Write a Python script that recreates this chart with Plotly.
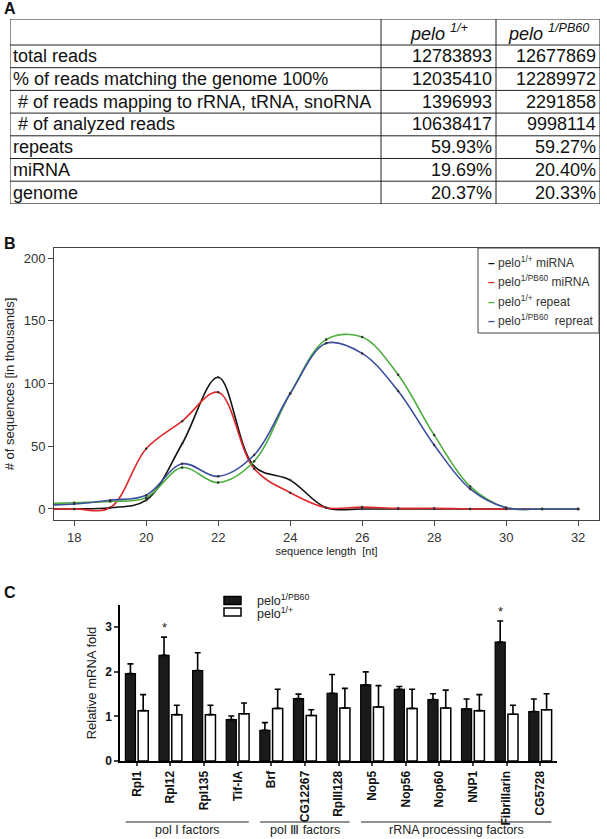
import plotly.graph_objects as go

W, H = 607, 839


def px(x):
    return x / W


def py(y):
    return 1 - y / H


FONT = "Liberation Sans, Arial, sans-serif"

# ---------------- Panel A: table ----------------
table_headers = ["", "<i>pelo <sup>1/+</sup></i>", "<i>pelo <sup>1/PB60</sup></i>"]
row_labels = [
    "total reads",
    "% of reads matching the genome 100%",
    " # of reads mapping to rRNA, tRNA, snoRNA",
    " # of analyzed reads",
    "repeats",
    "miRNA",
    "genome",
]
col_wt = ["12783893", "12035410", "1396993", "10638417", "59.93%", "19.69%", "20.37%"]
col_mut = ["12677869", "12289972", "2291858", "9998114", "59.27%", "20.40%", "20.33%"]

# ---------------- Panel B: length distribution ----------------
lengths = list(range(17, 33))
wt_mirna = [0, 0, 1, 7, 52, 105, 34, 23, 1, 0, 0, 0, 0, 0, 0, 0]
mut_mirna = [0, 0, 1, 48, 70, 93, 32, 13, 1, 1.5, 0.5, 0.5, 0, 0, 0, 0]
wt_repeat = [4, 5, 6, 9, 33, 21, 38, 92, 135, 137, 107, 59, 18, 1, 0, 0]
mut_repeat = [3, 4, 7, 11, 36, 26, 43, 92, 132, 124, 94, 51, 16, 1, 0, 0]
b_names = [
    "pelo<sup>1/+</sup> miRNA",
    "pelo<sup>1/PB60</sup> miRNA",
    "pelo<sup>1/+</sup> repeat",
    "pelo<sup>1/PB60</sup>  repreat",
]
b_colors = ["#111111", "#e0282b", "#4caf3e", "#3c4ea0"]
b_series = [wt_mirna, mut_mirna, wt_repeat, mut_repeat]

# ---------------- Panel C: qPCR ----------------
genes = ["Rpl1", "Rpl12", "Rpl135", "Tif-IA", "Brf", "CG12267", "RpIII128",
         "Nop5", "Nop56", "Nop60", "NNP1", "Fibrillarin", "CG5728"]
mut_mean = [1.96, 2.37, 2.03, 0.93, 0.69, 1.40, 1.52, 1.71, 1.61, 1.38, 1.17, 2.67, 1.11]
mut_err = [0.22, 0.41, 0.40, 0.08, 0.17, 0.10, 0.42, 0.29, 0.06, 0.13, 0.22, 0.47, 0.28]
wt_mean = [1.13, 1.04, 1.04, 1.06, 1.18, 1.02, 1.19, 1.21, 1.18, 1.19, 1.13, 1.05, 1.15]
wt_err = [0.36, 0.21, 0.21, 0.24, 0.43, 0.13, 0.44, 0.48, 0.43, 0.40, 0.36, 0.20, 0.36]
c_names = ["pelo<sup>1/PB60</sup>", "pelo<sup>1/+</sup>"]
star_genes = ["Rpl12", "Fibrillarin"]
group_names = ["pol I factors", "pol \u2162 factors", "rRNA processing factors"]
group_spans = [("Rpl1", "Tif-IA"), ("Brf", "RpIII128"), ("Nop5", "CG5728")]

gx = list(range(len(genes)))

fig = go.Figure()

# Panel B lines
for name, col, ys in zip(b_names, b_colors, b_series):
    fig.add_trace(go.Scatter(
        x=lengths, y=ys, mode="lines+markers", name=name,
        line=dict(color=col, width=1.6, shape="spline", smoothing=1.0),
        marker=dict(size=2.5, color="#333"),
        xaxis="x", yaxis="y", showlegend=False, cliponaxis=True,
    ))

# Panel C bars
fig.add_trace(go.Bar(
    x=gx, y=mut_mean, name=c_names[0], xaxis="x2", yaxis="y2",
    marker=dict(color="#1a1a1a", line=dict(color="#000", width=1.2)),
    error_y=dict(type="data", array=mut_err, arrayminus=[0] * len(gx),
                 symmetric=False, color="#000", thickness=1.6, width=3),
    showlegend=False,
))
fig.add_trace(go.Bar(
    x=gx, y=wt_mean, name=c_names[1], xaxis="x2", yaxis="y2",
    marker=dict(color="white", line=dict(color="#000", width=1.5)),
    error_y=dict(type="data", array=wt_err, arrayminus=[0] * len(gx),
                 symmetric=False, color="#000", thickness=1.6, width=3),
    showlegend=False,
))

annotations = []
shapes = []

# ---- Table A drawn on a hidden axis pair (x3/y3), units = pixels ----
col_w = [371, 115, 104]
header_h, row_h = 26, 22.7
col_edges = [0]
for w in col_w:
    col_edges.append(col_edges[-1] + w)
row_edges = [0, header_h]
for _ in row_labels:
    row_edges.append(row_edges[-1] + row_h)
tab_w, tab_h = col_edges[-1], row_edges[-1]

fig.add_trace(go.Scatter(x=[0, tab_w], y=[0, tab_h], mode="markers",
                         marker=dict(size=1, color="rgba(0,0,0,0)"),
                         xaxis="x3", yaxis="y3", showlegend=False, hoverinfo="skip"))

for yv in row_edges:
    shapes.append(dict(type="line", xref="x3", yref="y3", x0=0, x1=tab_w, y0=yv, y1=yv,
                       line=dict(color="#222", width=1)))
for xv in col_edges:
    shapes.append(dict(type="line", xref="x3", yref="y3", x0=xv, x1=xv, y0=0, y1=tab_h,
                       line=dict(color="#222", width=1)))

for j, htxt in enumerate(table_headers):
    if htxt:
        annotations.append(dict(text=htxt, x=(col_edges[j] + col_edges[j + 1]) / 2,
                                y=header_h / 2 + 1, xref="x3", yref="y3",
                                xanchor="center", yanchor="middle", showarrow=False,
                                font=dict(size=18, color="#111")))
for i, (lab, a, b) in enumerate(zip(row_labels, col_wt, col_mut)):
    yc = (row_edges[i + 1] + row_edges[i + 2]) / 2
    annotations.append(dict(text=lab.replace(" ", "\u00a0", 1) if lab.startswith(" ") else lab,
                            x=col_edges[0] + 1, y=yc, xref="x3", yref="y3",
                            xanchor="left", yanchor="middle", showarrow=False,
                            font=dict(size=18, color="#111")))
    for j, v in ((1, a), (2, b)):
        annotations.append(dict(text=v, x=col_edges[j + 1] - 2, y=yc, xref="x3", yref="y3",
                                xanchor="right", yanchor="middle", showarrow=False,
                                font=dict(size=18, color="#111")))

# panel letters
for letter, yy in [("A", 9), ("B", 243), ("C", 592)]:
    annotations.append(dict(text=f"<b>{letter}</b>", x=px(2), y=py(yy), xref="paper",
                            yref="paper", xanchor="left", yanchor="middle",
                            showarrow=False, font=dict(size=16, color="#111")))

# Panel B legend (custom box)
shapes.append(dict(type="rect", xref="paper", yref="paper", x0=px(478), x1=px(599),
                   y0=py(333), y1=py(248), line=dict(color="#444", width=1),
                   fillcolor="white", layer="above"))
for i, (name, col) in enumerate(zip(b_names, b_colors)):
    annotations.append(dict(
        text=f'<span style="color:{col}"><b>\u2013</b></span> {name}',
        x=px(486), y=py(262 + 19.3 * i), xref="paper", yref="paper",
        xanchor="left", yanchor="middle", showarrow=False,
        font=dict(size=12, color="#333")))

# Panel C legend
leg_y = [600.5, 612]
for i, (name, fillc) in enumerate(zip(c_names, ["#1a1a1a", "white"])):
    shapes.append(dict(type="rect", xref="paper", yref="paper",
                       x0=px(224), x1=px(241), y0=py(leg_y[i] + 4), y1=py(leg_y[i] - 4),
                       fillcolor=fillc, line=dict(color="#000", width=1.5)))
    annotations.append(dict(text=name, x=px(256), y=py(leg_y[i] + 8 + 1.5 * i), xref="paper",
                            yref="paper", xanchor="left", yanchor="bottom",
                            showarrow=False, font=dict(size=12.5, color="#222"),
                            borderpad=0))

# stars
for g in star_genes:
    i = genes.index(g)
    annotations.append(dict(text="*", x=i - 0.19, y=mut_mean[i] + mut_err[i] + 0.22,
                            xref="x2", yref="y2", showarrow=False, yanchor="middle",
                            font=dict(size=13, color="#222")))

# group brackets
for gname, (a, b) in zip(group_names, group_spans):
    ia, ib = genes.index(a), genes.index(b)
    shapes.append(dict(type="line", xref="x2", yref="paper", x0=ia - 0.33, x1=ib + 0.33,
                       y0=py(822), y1=py(822), line=dict(color="#222", width=1.2)))
    annotations.append(dict(text=gname, x=(ia + ib) / 2, y=py(830), xref="x2",
                            yref="paper", showarrow=False, yanchor="middle",
                            font=dict(size=12.5, color="#222")))

fig.update_layout(
    width=W, height=H, margin=dict(l=0, r=0, t=0, b=0, autoexpand=False),
    paper_bgcolor="white", plot_bgcolor="white",
    font=dict(family=FONT, color="#222"),
    showlegend=False,
    bargap=0.24, bargroupgap=0.21, barmode="group",
    xaxis=dict(domain=[px(54), px(599)], range=[17.44, 32.58], anchor="y",
               automargin=False,
               tickvals=list(range(18, 33, 2)), showgrid=False, zeroline=False,
               showline=True, mirror=True, linecolor="#444", linewidth=1,
               ticks="outside", ticklen=5, tickcolor="#444",
               tickfont=dict(size=13, color="#333"),
               title=dict(text="sequence length  [nt]", font=dict(size=11, color="#222"),
                          standoff=1)),
    yaxis=dict(domain=[py(520), py(248)], range=[-8.8, 208], anchor="x",
               automargin=False,
               tickvals=[0, 50, 100, 150, 200], showgrid=False, zeroline=False,
               showline=True, mirror=True, linecolor="#444", linewidth=1,
               ticks="outside", ticklen=5, tickcolor="#444",
               tickfont=dict(size=13, color="#333"),
               title=dict(text="# of sequences [in thousands]",
                          font=dict(size=13, color="#222"), standoff=6)),
    xaxis2=dict(domain=[px(120), px(557)], range=[-0.5, 12.5], anchor="y2",
                automargin=False,
                tickvals=gx, ticktext=genes, tickangle=-90,
                showgrid=False, zeroline=False, showline=True, linecolor="#000",
                linewidth=2, ticks="outside", ticklen=3, tickwidth=1.5,
                tickfont=dict(size=12, color="#111", weight="bold")),
    yaxis2=dict(domain=[py(761), py(605)], range=[0, 3.5], tickvals=[0, 1, 2, 3],
                anchor="x2", automargin=False,
                showgrid=False, zeroline=False, showline=True, linecolor="#000",
                linewidth=1.5, ticks="outside", ticklen=4, tickwidth=1.5,
                tickfont=dict(size=12, color="#111", weight="bold"),
                title=dict(text="Relative mRNA fold", font=dict(size=13, color="#222"),
                           standoff=6)),
    xaxis3=dict(domain=[px(10), px(600)], range=[0, tab_w], anchor="y3", visible=False,
                fixedrange=True, automargin=False),
    yaxis3=dict(domain=[py(19 + tab_h), py(19)], range=[tab_h, 0], anchor="x3",
                visible=False, fixedrange=True, automargin=False),
    annotations=annotations, shapes=shapes,
)

fig.write_html("out.html", config={"displayModeBar": False},
               post_script="document.body.style.margin='0px';"
                           "document.body.style.overflow='hidden';")
